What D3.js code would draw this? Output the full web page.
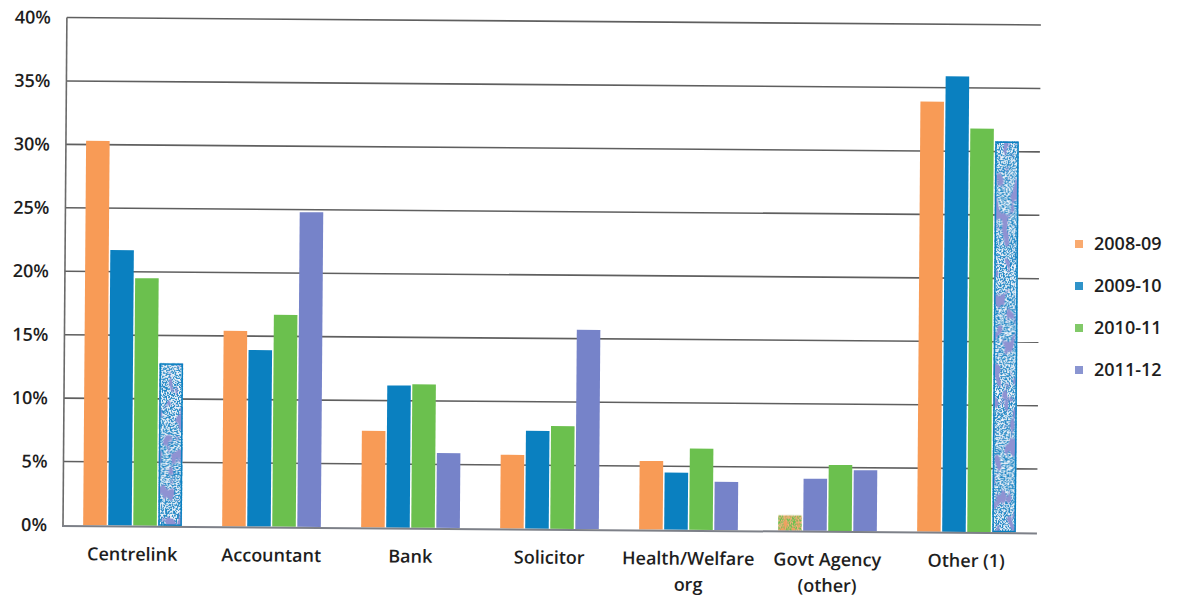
<!DOCTYPE html>
<html>
<head>
<meta charset="utf-8">
<script src="https://cdn.jsdelivr.net/npm/d3@7"></script>
<style>
  html, body { margin: 0; padding: 0; background: #ffffff; }
  svg { display: block; font-family: "Open Sans", "Noto Sans", sans-serif; }
</style>
</head>
<body>
<script>
// Share of contacts by source, per financial year
const categories = ["Centrelink", "Accountant", "Bank", "Solicitor", "Health/Welfare org", "Govt Agency (other)", "Other (1)"];
const categoryLines = [["Centrelink"], ["Accountant"], ["Bank"], ["Solicitor"], ["Health/Welfare", "org"], ["Govt Agency", "(other)"], ["Other (1)"]];
const seriesNames = ["2008-09", "2009-10", "2010-11", "2011-12"];
const values2008 = [30.3, 15.4, 7.6, 5.8, 5.4, 1.2, 33.9];
const values2009 = [21.7, 13.9, 11.2, 7.7, 4.5, 4.1, 35.9];
const values2010 = [19.5, 16.7, 11.3, 8.1, 6.4, 5.2, 31.8];
const values2011 = [12.8, 24.8, 5.9, 15.7, 3.8, 4.8, 30.8];
const yTicks = [0, 5, 10, 15, 20, 25, 30, 35, 40];
const yTickLabels = ["0%", "5%", "10%", "15%", "20%", "25%", "30%", "35%", "40%"];

const seriesValues = [values2008, values2009, values2010, values2011];
const colors = { "2008-09": "#f89b56", "2009-10": "#0a80c0", "2010-11": "#6bc04e", "2011-12": "#7683c9" };
// bars printed with a textured or substituted fill
const specialFill = {
  "Centrelink|2011-12": "speckleBlue",
  "Other (1)|2011-12": "speckleBlue",
  "Govt Agency (other)|2008-09": "speckleOrange"
};
const colorOverride = { "Govt Agency (other)|2009-10": "#7683c9" };

const W = 1181, H = 598;
const svg = d3.select("body").append("svg").attr("width", W).attr("height", H);
const defs = svg.append("defs");

function speckleFilter(id, base, dotColor, blobColor) {
  const f = defs.append("filter").attr("id", id)
    .attr("x", 0).attr("y", 0).attr("width", 1).attr("height", 1)
    .attr("color-interpolation-filters", "sRGB");
  const rgb = c => { const k = d3.rgb(c); return [k.r / 255, k.g / 255, k.b / 255]; };
  const d = rgb(dotColor), b = rgb(blobColor);
  f.append("feTurbulence").attr("type", "fractalNoise").attr("baseFrequency", 0.75)
    .attr("numOctaves", 2).attr("seed", 2).attr("result", "n1");
  f.append("feColorMatrix").attr("in", "n1").attr("type", "matrix")
    .attr("values", `0 0 0 0 ${d[0]}  0 0 0 0 ${d[1]}  0 0 0 0 ${d[2]}  14 0 0 0 -6.6`)
    .attr("result", "dots");
  f.append("feTurbulence").attr("type", "fractalNoise").attr("baseFrequency", "0.12 0.06")
    .attr("numOctaves", 2).attr("seed", 5).attr("result", "n2");
  f.append("feColorMatrix").attr("in", "n2").attr("type", "matrix")
    .attr("values", `0 0 0 0 ${b[0]}  0 0 0 0 ${b[1]}  0 0 0 0 ${b[2]}  9 0 0 0 -4.9`)
    .attr("result", "blobs");
  f.append("feFlood").attr("flood-color", base).attr("result", "bg");
  const m = f.append("feMerge").attr("result", "merged");
  m.append("feMergeNode").attr("in", "bg");
  m.append("feMergeNode").attr("in", "dots");
  m.append("feMergeNode").attr("in", "blobs");
  f.append("feComposite").attr("in", "merged").attr("in2", "SourceGraphic").attr("operator", "in");
}
speckleFilter("speckleBlue", "#eef2f9", "#1f86c4", "#8f92d2");
speckleFilter("speckleOrange", "#f2b27e", "#6bc04e", "#f0a060");

// the printed page sits at a slight tilt
const plot = svg.append("g").attr("transform", "rotate(0.44, 63, 525)");

const x0 = d3.scaleBand().domain(categories).range([63, 1036]).paddingInner(0.29).paddingOuter(0.145);
const x1 = d3.scaleBand().domain(seriesNames).range([0, x0.bandwidth()]).paddingInner(0.06);
const y = d3.scaleLinear().domain([0, 40]).range([525, 17.5]);

// gridlines
plot.append("g").selectAll("line").data(yTicks.filter(t => t > 0)).join("line")
  .attr("x1", 63).attr("x2", 1037)
  .attr("y1", d => y(d)).attr("y2", d => y(d))
  .attr("stroke", "#5f5f5f").attr("stroke-width", 1.6);

// y axis labels
const yAxis = d3.axisLeft(y).tickValues(yTicks)
  .tickFormat((d, i) => yTickLabels[i]).tickSize(0).tickPadding(16);
const yg = plot.append("g").attr("transform", "translate(63,0)").call(yAxis);
yg.select(".domain").remove();
yg.selectAll("text").attr("font-size", 18).attr("font-weight", 600).attr("fill", "#1e1e1e")
  .attr("font-family", "'Open Sans', sans-serif");

// bars
const rows = [];
categories.forEach((c, ci) => {
  seriesNames.forEach((s, si) => rows.push({ cat: c, series: s, value: seriesValues[si][ci] }));
});
const bars = plot.append("g");
rows.forEach(r => {
  const key = r.cat + "|" + r.series;
  const bx = x0(r.cat) + x1(r.series);
  const by = y(r.value);
  const bh = y(0) - y(r.value);
  const rect = bars.append("rect")
    .attr("x", bx).attr("y", by).attr("width", x1.bandwidth()).attr("height", bh)
    .attr("fill", colorOverride[key] || colors[r.series]);
  if (specialFill[key]) {
    rect.attr("filter", `url(#${specialFill[key]})`);
    if (specialFill[key] === "speckleBlue") {
      bars.append("rect")
        .attr("x", bx + 0.75).attr("y", by + 0.75)
        .attr("width", x1.bandwidth() - 1.5).attr("height", bh - 1.5)
        .attr("fill", "none").attr("stroke", colors["2009-10"]).attr("stroke-width", 1.5);
    }
  }
});

// axes lines
plot.append("line").attr("x1", 63).attr("x2", 63).attr("y1", y(40)).attr("y2", y(0))
  .attr("stroke", "#6a6a6a").attr("stroke-width", 1.6);
plot.append("line").attr("x1", 62).attr("x2", 1037).attr("y1", y(0) + 1).attr("y2", y(0) + 1)
  .attr("stroke", "#7d8088").attr("stroke-width", 2);

// category labels
const xl = plot.append("g");
categories.forEach((c, ci) => {
  const t = xl.append("text")
    .attr("x", x0(c) + x0.bandwidth() / 2).attr("y", 560)
    .attr("text-anchor", "middle").attr("font-size", 18).attr("font-weight", 600)
    .attr("fill", "#1e1e1e");
  categoryLines[ci].forEach((line, li) => {
    t.append("tspan").attr("x", x0(c) + x0.bandwidth() / 2).attr("dy", li === 0 ? 0 : 26).text(line);
  });
});

// legend
const legendY = d3.scalePoint().domain(seriesNames).range([244, 370]);
const legend = svg.append("g");
seriesNames.forEach(s => {
  legend.append("rect").attr("x", 1075).attr("y", legendY(s) - 4).attr("width", 8).attr("height", 8)
    .attr("fill", colors[s]).attr("opacity", 0.85);
  legend.append("text").attr("x", 1094).attr("y", legendY(s)).attr("dy", "0.35em")
    .attr("font-size", 18).attr("font-weight", 600).attr("fill", "#1e1e1e").text(s);
});
</script>
</body>
</html>
